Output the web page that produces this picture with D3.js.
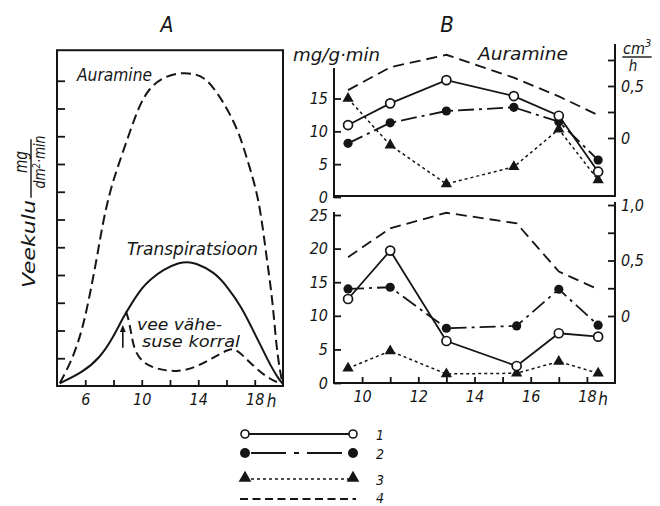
<!DOCTYPE html>
<html>
<head>
<meta charset="utf-8">
<script src="https://cdn.jsdelivr.net/npm/d3@7"></script>
<style>
  body { margin: 0; background: #fff; }
  text { font-family: "DejaVu Sans Condensed", "DejaVu Sans", sans-serif; font-style: italic; fill: #151515; }
</style>
</head>
<body>
<svg id="chart" width="660" height="506"></svg>
<script>
// ---------- Panel A: daily course of water use (mg / dm²·min) ----------
const hoursAuramineA  = [4.2, 5.13, 5.83, 6.33, 6.82, 7.25, 7.74, 8.3, 9.15, 9.86, 10.56, 11.48, 12.68, 13.88, 14.66, 15.5, 16.2, 16.9, 17.48, 18.1, 18.47, 18.82, 19.17, 19.39, 19.6, 19.95];
const valuesAuramineA = [0.1, 1.0, 2.1, 3.3, 4.6, 5.9, 7.0, 7.9, 9.15, 10.15, 10.75, 11.12, 11.3, 11.25, 11.03, 10.45, 9.85, 9.1, 8.15, 7.1, 6.1, 4.7, 3.45, 2.3, 1.1, 0.1];

const hoursTranspA  = [4.2, 5.83, 7.03, 7.95, 8.66, 9.29, 10.07, 10.56, 11.5, 12.68, 13.2, 13.74, 15.15, 16.07, 17.06, 17.76, 18.47, 19.17, 19.74, 19.95];
const valuesTranspA = [0.1, 0.5, 1.01, 1.73, 2.45, 2.99, 3.57, 3.82, 4.2, 4.45, 4.47, 4.45, 4.11, 3.57, 2.85, 2.13, 1.41, 0.68, 0.22, 0.1];

const hoursDroughtA  = [8.88, 9.05, 9.22, 9.45, 10.07, 11.06, 12.47, 13.8, 15.15, 16.07, 16.56, 17.27, 18.18, 19.17, 19.74, 19.95];
const valuesDroughtA = [2.68, 2.45, 2.0, 1.3, 0.83, 0.61, 0.5, 0.66, 1.05, 1.3, 1.37, 1.05, 0.58, 0.22, 0.11, 0.1];

const yTicksA  = [1, 2, 3, 4, 5, 6, 7, 8, 9, 10, 11];
const xTicksA  = [6, 8, 10, 12, 14, 16, 18];
const xLabelsA = [6, 10, 14, 18];

// ---------- Panel B: measured at the hours below ----------
const hoursTopB = [9.5, 11, 13, 15.4, 17, 18.4];
const top1 = [10.96, 14.26, 17.8, 15.37, 12.37, 3.85];
const top2 = [8.17, 11.3, 13.1, 13.65, 11.46, 5.63];
const top3 = [15.0, 7.9, 1.98, 4.6, 10.3, 2.6];
const top4 = [0.46, 0.68, 0.80, 0.58, 0.40, 0.22];      // cm³/h

const hoursBottomB = [9.5, 11, 13, 15.5, 17, 18.4];
const bottom1 = [12.5, 19.7, 6.25, 2.53, 7.4, 6.9];
const bottom2 = [14.0, 14.25, 8.15, 8.5, 13.95, 8.6];
const bottom3 = [2.2, 4.75, 1.35, 1.45, 3.2, 1.45];
const bottom4 = [0.53, 0.79, 0.93, 0.835, 0.40, 0.24];  // cm³/h

const xTicksB  = [10, 11, 12, 13, 14, 15, 16, 17, 18];
const xLabelsB = [10, 12, 14, 16, 18];
const yTicksTopB    = [0, 5, 10, 15];
const yTicksBottomB = [0, 5, 10, 15, 20, 25];
const rTicksTopB    = [0, 0.25, 0.5, 0.75];
const rTicksBottomB = [0, 0.25, 0.5, 0.75, 1];
const rLabelsB      = [0, 0.5, 1];
const legendKeys    = ["1", "2", "3", "4"];

// ---------- drawing ----------
const ink = "#151515";
const svg = d3.select("#chart");
const comma = d => d === 0 ? "0" : d3.format(".1f")(d).replace(".", ",");

function label(g, txt, x, y, size, opts = {}) {
  const t = g.append("text").attr("x", x).attr("y", y).attr("font-size", size).text(txt);
  if (opts.anchor) t.attr("text-anchor", opts.anchor);
  if (opts.len) t.attr("textLength", opts.len).attr("lengthAdjust", "spacingAndGlyphs");
  if (opts.rotate) t.attr("transform", `rotate(-90 ${x} ${y})`);
  return t;
}

function styleAxis(sel) {
  sel.select(".domain").remove();
  sel.selectAll(".tick line").attr("stroke", ink).attr("stroke-width", 1.8);
  sel.selectAll(".tick text").attr("font-size", 16).attr("fill", ink)
     .attr("font-family", "'DejaVu Sans Condensed', 'DejaVu Sans', sans-serif");
}

function rule(g, x1, y1, x2, y2, w = 2) {
  g.append("line").attr("x1", x1).attr("y1", y1).attr("x2", x2).attr("y2", y2)
   .attr("stroke", ink).attr("stroke-width", w).attr("stroke-linecap", "square");
}

// ---- Panel A ----
const xA = d3.scaleLinear().domain([4, 20]).range([57, 283]);
const yA = d3.scaleLinear().domain([0, 12]).range([386, 53]);
const gA = svg.append("g");

gA.append("rect")
  .attr("x", xA(4)).attr("y", yA(12.1))
  .attr("width", xA(20) - xA(4)).attr("height", yA(0) - yA(12.1))
  .attr("fill", "none").attr("stroke", ink).attr("stroke-width", 2);

gA.append("g").attr("transform", `translate(${xA(4)},0)`)
  .call(d3.axisLeft(yA).tickValues(yTicksA).tickSize(-8).tickFormat(""))
  .call(styleAxis);

gA.append("g").attr("transform", `translate(0,${yA(0)})`)
  .call(d3.axisBottom(xA).tickValues(xTicksA).tickSize(-6).tickPadding(8)
        .tickFormat(d => xLabelsA.includes(d) ? d : ""))
  .call(styleAxis);
label(gA, "h", xA(19.2), 407, 17, { anchor: "middle" });

const curveA = d3.line().x(d => xA(d[0])).y(d => yA(d[1])).curve(d3.curveBasis);
const pairs = (h, v) => h.map((t, i) => [t, v[i]]);

gA.append("path").datum(pairs(hoursAuramineA, valuesAuramineA))
  .attr("d", curveA).attr("fill", "none").attr("stroke", ink)
  .attr("stroke-width", 2).attr("stroke-dasharray", "10,5");
gA.append("path").datum(pairs(hoursTranspA, valuesTranspA))
  .attr("d", curveA).attr("fill", "none").attr("stroke", ink).attr("stroke-width", 2);
gA.append("path").datum(pairs(hoursDroughtA, valuesDroughtA))
  .attr("d", curveA).attr("fill", "none").attr("stroke", ink)
  .attr("stroke-width", 2).attr("stroke-dasharray", "9,5");

// arrow marking the midday depression
const ax = xA(8.66);
rule(gA, ax, yA(1.41), ax, yA(2.0), 1.6);
gA.append("path")
  .attr("d", `M${ax - 3},${yA(1.95)} L${ax},${yA(2.2)} L${ax + 3},${yA(1.95)} Z`)
  .attr("fill", ink);

label(gA, "A", 167, 32, 21, { anchor: "middle" });
label(gA, "Auramine", 77, 81, 17, { len: 75 });
label(gA, "Transpiratsioon", 127, 255, 17, { len: 131 });
label(gA, "vee vähe-", 137, 330, 16, { len: 85 });
label(gA, "suse korral", 142, 347, 16, { len: 98 });

// y-axis title: Veekulu  mg / dm²·min
label(gA, "Veekulu", 35, 244, 18, { anchor: "middle", rotate: true, len: 88 });
label(gA, "mg", 27, 162, 17, { anchor: "middle", rotate: true, len: 22 });
rule(gA, 31, 140, 31, 197, 1.4);
const dm = gA.append("text").attr("x", 45).attr("y", 162).attr("font-size", 15)
  .attr("text-anchor", "middle").attr("transform", "rotate(-90 45 162)")
  .attr("textLength", 53).attr("lengthAdjust", "spacingAndGlyphs");
dm.append("tspan").text("dm");
dm.append("tspan").attr("font-size", 10).attr("dy", -5).text("2");
dm.append("tspan").attr("dy", 5).text("·min");

// ---- Panel B ----
const xB = d3.scaleLinear().domain([9, 19]).range([334, 615]);
const yTop = d3.scaleLinear().domain([0, 15]).range([197, 98.5]);
const rTop = d3.scaleLinear().domain([0, 0.5]).range([138, 86]);
const yBot = d3.scaleLinear().domain([0, 25]).range([383, 215]);
const rBot = d3.scaleLinear().domain([0, 1]).range([316, 205]);
const gB = svg.append("g");

// frames
rule(gB, xB(9), 69, xB(9), yTop(0));
rule(gB, xB(9), yTop(0) - 1, xB(19), yTop(0) - 1);
rule(gB, xB(19), 45, xB(19), yTop(0) - 1);
rule(gB, xB(9), 213, xB(9), yBot(0));
rule(gB, xB(9), yBot(0), xB(19), yBot(0));
rule(gB, xB(19), 203, xB(19), yBot(0));

gB.append("g").attr("transform", `translate(${xB(9)},0)`)
  .call(d3.axisLeft(yTop).tickValues(yTicksTopB).tickSize(-7).tickPadding(6))
  .call(styleAxis);
gB.append("g").attr("transform", `translate(${xB(19)},0)`)
  .call(d3.axisRight(rTop).tickValues(rTicksTopB).tickSize(-7).tickPadding(6)
        .tickFormat(d => rLabelsB.includes(d) ? comma(d) : ""))
  .call(styleAxis);
gB.append("g").attr("transform", `translate(${xB(9)},0)`)
  .call(d3.axisLeft(yBot).tickValues(yTicksBottomB).tickSize(-7).tickPadding(6))
  .call(styleAxis);
gB.append("g").attr("transform", `translate(${xB(19)},0)`)
  .call(d3.axisRight(rBot).tickValues(rTicksBottomB).tickSize(-7).tickPadding(6)
        .tickFormat(d => rLabelsB.includes(d) ? comma(d) : ""))
  .call(styleAxis);
gB.append("g").attr("transform", `translate(0,${yBot(0)})`)
  .call(d3.axisBottom(xB).tickValues(xTicksB).tickSize(-6).tickPadding(8)
        .tickFormat(d => xLabelsB.includes(d) ? d : ""))
  .call(styleAxis);
label(gB, "h", 603, 405, 17, { anchor: "middle" });

// series styles
const seriesStyle = [
  { dash: null,         legendDash: null,       width: 1.8, marker: "open" },
  { dash: "16,5,3,5",   legendDash: "35,8,5,8", width: 1.8, marker: "dot" },
  { dash: "3,3",        legendDash: "3,3",      width: 1.5, marker: "tri" },
  { dash: "11,6",       legendDash: "8,4.5",    width: 1.8, marker: null }
];

function drawSeries(g, hours, values, y, st) {
  const pts = pairs(hours, values);
  g.append("path").datum(pts)
    .attr("d", d3.line().x(d => xB(d[0])).y(d => y(d[1])))
    .attr("fill", "none").attr("stroke", ink).attr("stroke-width", st.width)
    .attr("stroke-dasharray", st.dash);
  return pts;
}
function drawMarkers(g, pts, y, st) {
  if (!st.marker) return;
  const m = g.selectAll(null).data(pts).enter();
  if (st.marker === "open") {
    m.append("circle").attr("cx", d => xB(d[0])).attr("cy", d => y(d[1])).attr("r", 4.5)
      .attr("fill", "#fff").attr("stroke", ink).attr("stroke-width", 1.7);
  } else if (st.marker === "dot") {
    m.append("circle").attr("cx", d => xB(d[0])).attr("cy", d => y(d[1])).attr("r", 4.6).attr("fill", ink);
  } else {
    m.append("path").attr("d", d3.symbol(d3.symbolTriangle).size(55))
      .attr("transform", d => `translate(${xB(d[0])},${y(d[1])})`).attr("fill", ink);
  }
}

const topSets = [[top1, yTop], [top2, yTop], [top3, yTop], [top4, rTop]];
const botSets = [[bottom1, yBot], [bottom2, yBot], [bottom3, yBot], [bottom4, rBot]];
const topPts = topSets.map(([v, y], i) => drawSeries(gB, hoursTopB, v, y, seriesStyle[i]));
const botPts = botSets.map(([v, y], i) => drawSeries(gB, hoursBottomB, v, y, seriesStyle[i]));
[2, 1, 0].forEach(i => {
  drawMarkers(gB, topPts[i], topSets[i][1], seriesStyle[i]);
  drawMarkers(gB, botPts[i], botSets[i][1], seriesStyle[i]);
});

label(gB, "B", 447, 32, 22, { anchor: "middle" });
label(gB, "mg/g·min", 293, 61, 17, { len: 87 });
label(gB, "Auramine", 478, 60, 17, { len: 90 });
const cm = gB.append("text").attr("x", 623).attr("y", 54).attr("font-size", 16);
cm.append("tspan").text("cm");
cm.append("tspan").attr("font-size", 11).attr("dy", -7).text("3");
rule(gB, 623, 57, 651, 57, 1.4);
label(gB, "h", 633, 71, 15, { anchor: "middle" });

// ---- legend ----
const gL = svg.append("g");
const legendY = [434, 453, 479, 499];
const legendNumY = [440, 459, 485, 503];
legendKeys.forEach((k, i) => {
  const st = seriesStyle[i];
  const y0 = legendY[i];
  const x1 = i === 3 ? 240 : (i === 1 ? 251 : 245);
  const x2 = i === 3 ? 356 : (i === 1 ? 348 : 353);
  gL.append("line").attr("x1", x1).attr("x2", x2).attr("y1", y0).attr("y2", y0)
    .attr("stroke", ink).attr("stroke-width", st.width).attr("stroke-dasharray", st.legendDash);
  if (st.marker === "open") {
    [245, 353].forEach(x => gL.append("circle").attr("cx", x).attr("cy", y0).attr("r", 4)
      .attr("fill", "#fff").attr("stroke", ink).attr("stroke-width", 1.6));
  } else if (st.marker === "dot") {
    [245, 353].forEach(x => gL.append("circle").attr("cx", x).attr("cy", y0).attr("r", 5).attr("fill", ink));
  } else if (st.marker === "tri") {
    [245, 353].forEach(x => gL.append("path").attr("d", d3.symbol(d3.symbolTriangle).size(70))
      .attr("transform", `translate(${x},${y0 - 1})`).attr("fill", ink));
  }
  label(gL, k, 380, legendNumY[i], 14, { anchor: "middle" });
});
</script>
</body>
</html>
